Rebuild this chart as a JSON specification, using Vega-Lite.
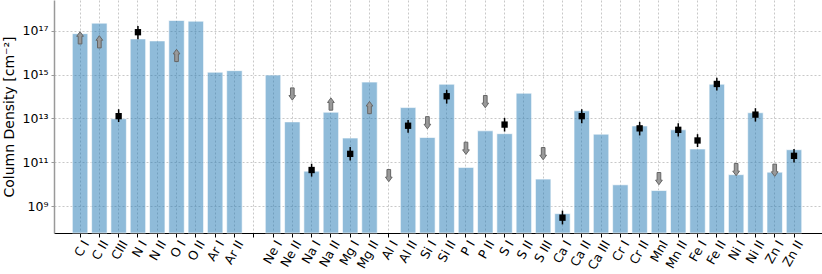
{
  "$schema": "https://vega.github.io/schema/vega-lite/v6.json",
  "width": 768,
  "height": 233,
  "autosize": {"type": "none"},
  "padding": {"left": 54, "top": 0, "right": 0, "bottom": 41},
  "config": {
    "font": "DejaVu Sans",
    "view": {"stroke": null},
    "axis": {"labelFont": "DejaVu Sans", "titleFont": "DejaVu Sans", "titleFontWeight": "normal"}
  },
  "datasets": {
    "bars": [
      {"ion": "C I", "N": 7.3e16}, {"ion": "C II", "N": 2.2e17}, {"ion": "CIII", "N": 9.6e12},
      {"ion": "N I", "N": 4.2e16}, {"ion": "N II", "N": 3.4e16}, {"ion": "O I", "N": 2.9e17},
      {"ion": "O II", "N": 2.7e17}, {"ion": "Ar I", "N": 1.27e15}, {"ion": "Ar II", "N": 1.5e15},
      {"ion": "Ne I", "N": 9.4e14}, {"ion": "Ne II", "N": 6.9e12}, {"ion": "Na I", "N": 3.9e10},
      {"ion": "Na II", "N": 1.9e13}, {"ion": "Mg I", "N": 1.26e12}, {"ion": "Mg II", "N": 4.5e14},
      {"ion": "Al II", "N": 3.1e13}, {"ion": "Si I", "N": 1.34e12}, {"ion": "Si II", "N": 3.6e14},
      {"ion": "P I", "N": 5.8e10}, {"ion": "P II", "N": 2.7e12}, {"ion": "S I", "N": 2.0e12},
      {"ion": "S II", "N": 1.4e14}, {"ion": "S III", "N": 1.7e10}, {"ion": "Ca I", "N": 4.5e8},
      {"ion": "Ca II", "N": 2.2e13}, {"ion": "Ca III", "N": 1.9e12}, {"ion": "Cr I", "N": 9.3e9},
      {"ion": "Cr II", "N": 4.5e12}, {"ion": "MnI", "N": 5.1e9}, {"ion": "Mn II", "N": 3.0e12},
      {"ion": "Fe I", "N": 4.0e11}, {"ion": "Fe II", "N": 3.6e14}, {"ion": "Ni I", "N": 2.7e10},
      {"ion": "Ni II", "N": 1.8e13}, {"ion": "Zn I", "N": 3.5e10}, {"ion": "Zn II", "N": 3.7e11}
    ],
    "det": [
      {"ion": "CIII", "v": 1.26e13, "lo": 6.8e12, "hi": 2.6e13},
      {"ion": "N I", "v": 8.5e16, "lo": 4.1e16, "hi": 1.62e17},
      {"ion": "Na I", "v": 4.4e10, "lo": 2.2e10, "hi": 8.5e10},
      {"ion": "Mg I", "v": 2.4e11, "lo": 1.2e11, "hi": 4.9e11},
      {"ion": "Al II", "v": 4.6e12, "lo": 2.2e12, "hi": 8.5e12},
      {"ion": "Si II", "v": 1.02e14, "lo": 4.7e13, "hi": 2.0e14},
      {"ion": "S I", "v": 5.2e12, "lo": 2.5e12, "hi": 1.05e13},
      {"ion": "Ca I", "v": 2.95e8, "lo": 1.45e8, "hi": 6.2e8},
      {"ion": "Ca II", "v": 1.26e13, "lo": 6.0e12, "hi": 2.6e13},
      {"ion": "Cr II", "v": 3.5e12, "lo": 1.66e12, "hi": 6.9e12},
      {"ion": "Mn II", "v": 3.0e12, "lo": 1.48e12, "hi": 6.0e12},
      {"ion": "Fe I", "v": 9.8e11, "lo": 4.9e11, "hi": 1.9e12},
      {"ion": "Fe II", "v": 3.7e14, "lo": 1.86e14, "hi": 7.2e14},
      {"ion": "Ni II", "v": 1.48e13, "lo": 7.1e12, "hi": 2.9e13},
      {"ion": "Zn II", "v": 1.95e11, "lo": 9.8e10, "hi": 4.0e11}
    ],
    "lim": [
      {"ion": "C I", "v": 4.7e16, "dir": "up"},
      {"ion": "C II", "v": 3.1e16, "dir": "up"},
      {"ion": "O I", "v": 7.4e15, "dir": "up"},
      {"ion": "Ne II", "v": 1.29e14, "dir": "down"},
      {"ion": "Na II", "v": 4.5e13, "dir": "up"},
      {"ion": "Mg II", "v": 3.1e13, "dir": "up"},
      {"ion": "Al I", "v": 2.45e10, "dir": "down"},
      {"ion": "Si I", "v": 6.3e12, "dir": "down"},
      {"ion": "P I", "v": 4.3e11, "dir": "down"},
      {"ion": "P II", "v": 5.8e13, "dir": "down"},
      {"ion": "S III", "v": 2.45e11, "dir": "down"},
      {"ion": "MnI", "v": 1.78e10, "dir": "down"},
      {"ion": "Ni I", "v": 4.6e10, "dir": "down"},
      {"ion": "Zn I", "v": 4.3e10, "dir": "down"}
    ]
  },
  "encoding": {
    "x": {
      "field": "ion",
      "type": "nominal",
      "sort": null,
      "scale": {
        "domain": ["C I", "C II", "CIII", "N I", "N II", "O I", "O II", "Ar I", "Ar II", "gap",
                   "Ne I", "Ne II", "Na I", "Na II", "Mg I", "Mg II", "Al I", "Al II", "Si I", "Si II",
                   "P I", "P II", "S I", "S II", "S III", "Ca I", "Ca II", "Ca III", "Cr I", "Cr II",
                   "MnI", "Mn II", "Fe I", "Fe II", "Ni I", "Ni II", "Zn I", "Zn II"],
        "paddingInner": 0.2,
        "paddingOuter": 1.99,
        "align": 0.475
      },
      "axis": {
        "title": null,
        "labelAngle": -60,
        "labelFontSize": 12.5,
        "labelColor": "#000000",
        "labelExpr": "datum.value == 'gap' ? '' : datum.value",
        "labelPadding": 4,
        "labelOffset": 6,
        "domainColor": "#000000",
        "domainWidth": 1,
        "tickColor": "#000000",
        "tickSize": 4,
        "grid": true,
        "gridColor": "#c8c8c8",
        "gridDash": [2, 2],
        "gridWidth": 1,
        "bandPosition": 0.5
      }
    }
  },
  "layer": [
    {
      "data": {"name": "bars"},
      "mark": {"type": "bar", "fill": "#1f77b4", "fillOpacity": 0.5, "stroke": "#ffffff", "strokeOpacity": 0.6, "strokeWidth": 1},
      "encoding": {
        "y": {
          "field": "N",
          "type": "quantitative",
          "scale": {"type": "log", "domain": [5.9e7, 2.5e18], "nice": false},
          "axis": {
            "title": "Column Density [cm⁻²]",
            "titleFontSize": 14,
            "titleColor": "#000000",
            "titlePadding": 6,
            "values": [1e9, 1e11, 1e13, 1e15, 1e17],
            "labelExpr": "round(log(datum.value)/LN10) == 9 ? '10⁹' : round(log(datum.value)/LN10) == 11 ? '10¹¹' : round(log(datum.value)/LN10) == 13 ? '10¹³' : round(log(datum.value)/LN10) == 15 ? '10¹⁵' : '10¹⁷'",
            "labelFontSize": 12.5,
            "labelColor": "#000000",
            "labelPadding": 3,
            "domainColor": "#999999",
            "domainWidth": 1.5,
            "tickColor": "#999999",
            "tickSize": 3,
            "grid": true,
            "gridColor": "#c8c8c8",
            "gridDash": [2, 2],
            "gridWidth": 1
          }
        },
        "y2": {"datum": 5.9e7}
      }
    },
    {
      "data": {"name": "det"},
      "mark": {"type": "rule", "color": "#000000", "strokeWidth": 1.5},
      "encoding": {
        "y": {"field": "lo", "type": "quantitative"},
        "y2": {"field": "hi"}
      }
    },
    {
      "data": {"name": "det"},
      "mark": {"type": "point", "shape": "square", "filled": true, "color": "#000000", "size": 40, "opacity": 1},
      "encoding": {
        "y": {"field": "v", "type": "quantitative"}
      }
    },
    {
      "data": {"name": "lim"},
      "mark": {"type": "point", "filled": true, "fill": "#999999", "stroke": "#666666", "strokeWidth": 1, "size": 150, "opacity": 1},
      "encoding": {
        "y": {"field": "v", "type": "quantitative"},
        "shape": {
          "field": "dir",
          "type": "nominal",
          "scale": {
            "domain": ["up", "down"],
            "range": ["M-0.3,1 L-0.3,-0.25 L-0.55,-0.25 L0,-1 L0.55,-0.25 L0.3,-0.25 L0.3,1 Z",
                      "M-0.3,-1 L-0.3,0.25 L-0.55,0.25 L0,1 L0.55,0.25 L0.3,0.25 L0.3,-1 Z"]
          },
          "legend": null
        }
      }
    }
  ]
}
